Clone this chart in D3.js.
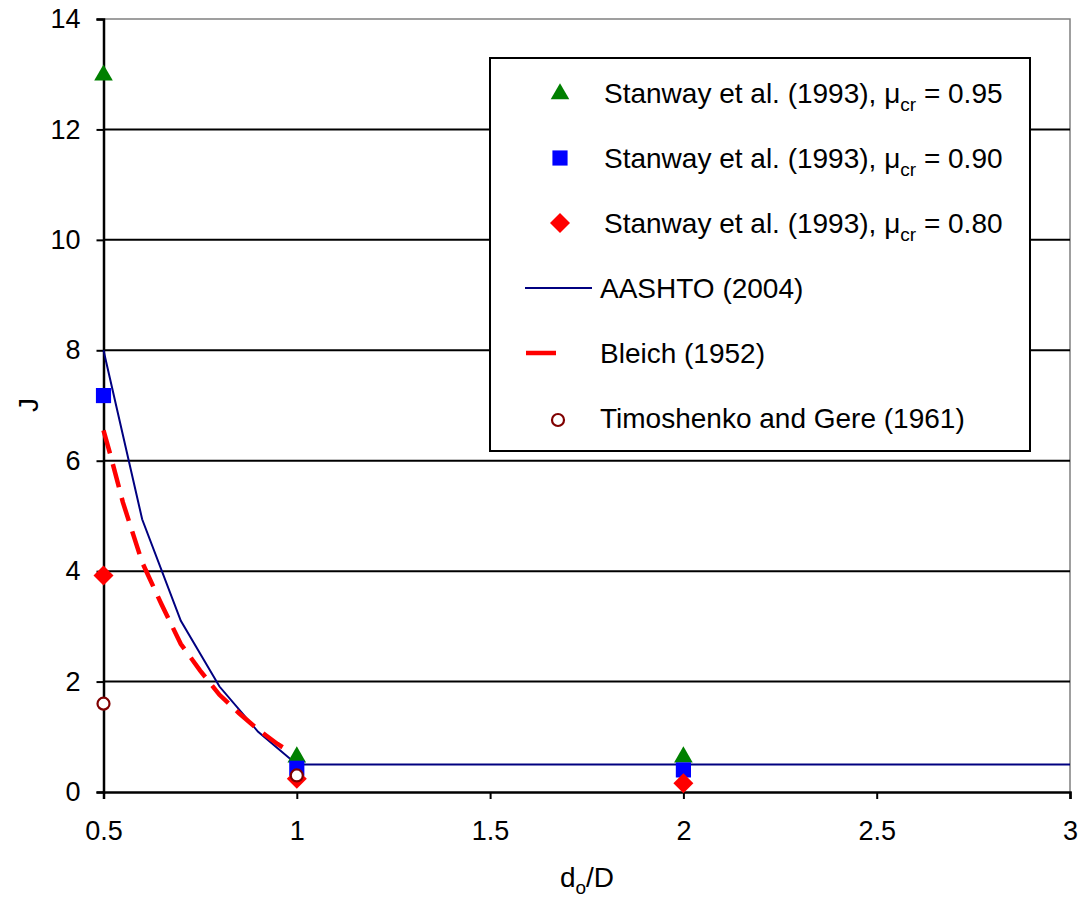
<!DOCTYPE html>
<html><head><meta charset="utf-8">
<script src="https://cdn.jsdelivr.net/npm/d3@7"></script>
<style>body{margin:0;background:#fff}svg{display:block}text{font-family:"Liberation Sans",Arial,sans-serif;fill:#000}</style>
</head><body><svg id="c" width="1085" height="901"></svg>
<script>
// ---- data ----
const xTicks = [0.5, 1, 1.5, 2, 2.5, 3];
const yTicks = [0, 2, 4, 6, 8, 10, 12, 14];
const stanwayX = [0.5, 1, 2];
const stanway095 = [13.0, 0.65, 0.65];
const stanway090 = [7.18, 0.43, 0.40];
const stanway080 = [3.92, 0.24, 0.16];
const aashtoX = [0.5, 0.6, 0.7, 0.8, 0.9, 1.0, 3.0];
const aashtoY = [8.0, 4.94, 3.10, 1.91, 1.09, 0.5, 0.5];
const bleichX = [0.5, 0.52, 0.55, 0.6, 0.65, 0.7, 0.75, 0.8, 0.85, 0.9, 0.95, 0.97];
const bleichY = [6.55, 6.05, 5.25, 4.16, 3.40, 2.68, 2.20, 1.76, 1.43, 1.13, 0.87, 0.78];
const timoX = [0.5, 1];
const timoY = [1.6, 0.30];

const svg = d3.select("#c");
const L = 103.5, R = 1070, T = 19, B = 792;
const FONT = '"Liberation Sans",Arial,sans-serif';
const x = d3.scaleLinear().domain([0.5, 3]).range([L, R]);
const y = d3.scaleLinear().domain([0, 14]).range([B, T]);

// border (top/right gray)
svg.append("path").attr("d", `M${L},${T}H${R}V${B}`).attr("fill","none").attr("stroke","#808080").attr("stroke-width",1.5);
// gridlines
svg.append("g").selectAll("line").data(yTicks.filter(d => d > 0 && d < 14)).join("line")
  .attr("x1", L).attr("x2", R).attr("y1", d => y(d)).attr("y2", d => y(d))
  .attr("stroke", "#000").attr("stroke-width", 2);

// axes
const xAxis = d3.axisBottom(x).tickValues(xTicks).tickFormat(d3.format("")).tickSize(7).tickPadding(22);
const gx = svg.append("g").attr("transform", `translate(0,${B})`).call(xAxis);
const yAxis = d3.axisLeft(y).tickValues(yTicks).tickSize(7).tickPadding(16);
const gy = svg.append("g").attr("transform", `translate(${L},0)`).call(yAxis);
[gx, gy].forEach(g => {
  g.select(".domain").attr("stroke", "#000").attr("stroke-width", 2.5);
  g.selectAll(".tick line").attr("stroke", "#000").attr("stroke-width", 2);
  g.selectAll(".tick text").attr("font-size", 27).attr("font-family", FONT).attr("fill","#000");
});

// lines
const line = d3.line().x(d => x(d[0])).y(d => y(d[1]));
svg.append("path").datum(aashtoX.map((v, i) => [v, aashtoY[i]])).attr("d", line)
  .attr("fill", "none").attr("stroke", "#000080").attr("stroke-width", 2);
svg.append("path").datum(bleichX.map((v, i) => [v, bleichY[i]])).attr("d", line)
  .attr("fill", "none").attr("stroke", "#ff0000").attr("stroke-width", 4.5)
  .attr("stroke-dasharray", "24,11");

// markers
const tri = d3.symbol().type(d3.symbolTriangle).size(150);
const sq = d3.symbol().type(d3.symbolSquare).size(230);
const dia = d3.symbol().type(d3.symbolSquare).size(200);
function drawTri(g, cx, cy) { g.append("path").attr("d", tri()).attr("transform", `translate(${cx},${cy+1})`).attr("fill", "#008000"); }
function drawSq(g, cx, cy) { g.append("path").attr("d", sq()).attr("transform", `translate(${cx},${cy})`).attr("fill", "#0000ff"); }
function drawDia(g, cx, cy) { g.append("path").attr("d", dia()).attr("transform", `translate(${cx},${cy}) rotate(45)`).attr("fill", "#ff0000"); }
function drawCirc(g, cx, cy) { g.append("circle").attr("cx", cx).attr("cy", cy).attr("r", 6).attr("fill", "#fff").attr("stroke", "#800000").attr("stroke-width", 2.2); }

const mk = svg.append("g");
stanwayX.forEach((v, i) => drawTri(mk, x(v), y(stanway095[i])));
stanwayX.forEach((v, i) => drawSq(mk, x(v), y(stanway090[i])));
stanwayX.forEach((v, i) => drawDia(mk, x(v), y(stanway080[i])));
timoX.forEach((v, i) => drawCirc(mk, x(v), y(timoY[i])));

// axis titles
const xt = svg.append("text").attr("x", 587).attr("y", 887).attr("text-anchor", "middle").attr("font-size", 28);
xt.append("tspan").text("d");
xt.append("tspan").attr("font-size", 19).attr("dy", 7).text("o");
xt.append("tspan").attr("dy", -7).text("/D");
svg.append("text").attr("transform", "translate(38,405) rotate(-90)").attr("text-anchor", "middle").attr("font-size", 28).text("J");

// legend
const lg = svg.append("g");
lg.append("rect").attr("x", 490).attr("y", 58).attr("width", 540).attr("height", 393)
  .attr("fill", "#fff").attr("stroke", "#000").attr("stroke-width", 2);
const rowsY = [93, 158, 223, 288, 353, 418];
const mus = ["0.95", "0.90", "0.80"];
[drawTri, drawSq, drawDia].forEach((f, i) => {
  f(lg, 560, rowsY[i]);
  const t = lg.append("text").attr("x", 604).attr("y", rowsY[i] + 10).attr("font-size", 28);
  t.append("tspan").text("Stanway et al. (1993), μ");
  t.append("tspan").attr("font-size", 19).attr("dy", 8).text("cr");
  t.append("tspan").attr("dy", -8).text(" = " + mus[i]);
});
lg.append("line").attr("x1", 525).attr("x2", 592).attr("y1", rowsY[3]).attr("y2", rowsY[3]).attr("stroke", "#000080").attr("stroke-width", 2);
lg.append("text").attr("x", 600).attr("y", rowsY[3] + 10).attr("font-size", 28).text("AASHTO (2004)");
lg.append("line").attr("x1", 526).attr("x2", 556).attr("y1", rowsY[4]).attr("y2", rowsY[4]).attr("stroke", "#ff0000").attr("stroke-width", 4.5);
lg.append("text").attr("x", 600).attr("y", rowsY[4] + 10).attr("font-size", 28).text("Bleich (1952)");
drawCirc(lg, 558, rowsY[5] + 2);
lg.append("text").attr("x", 600).attr("y", rowsY[5] + 10).attr("font-size", 28).text("Timoshenko and Gere (1961)");
</script></body></html>
